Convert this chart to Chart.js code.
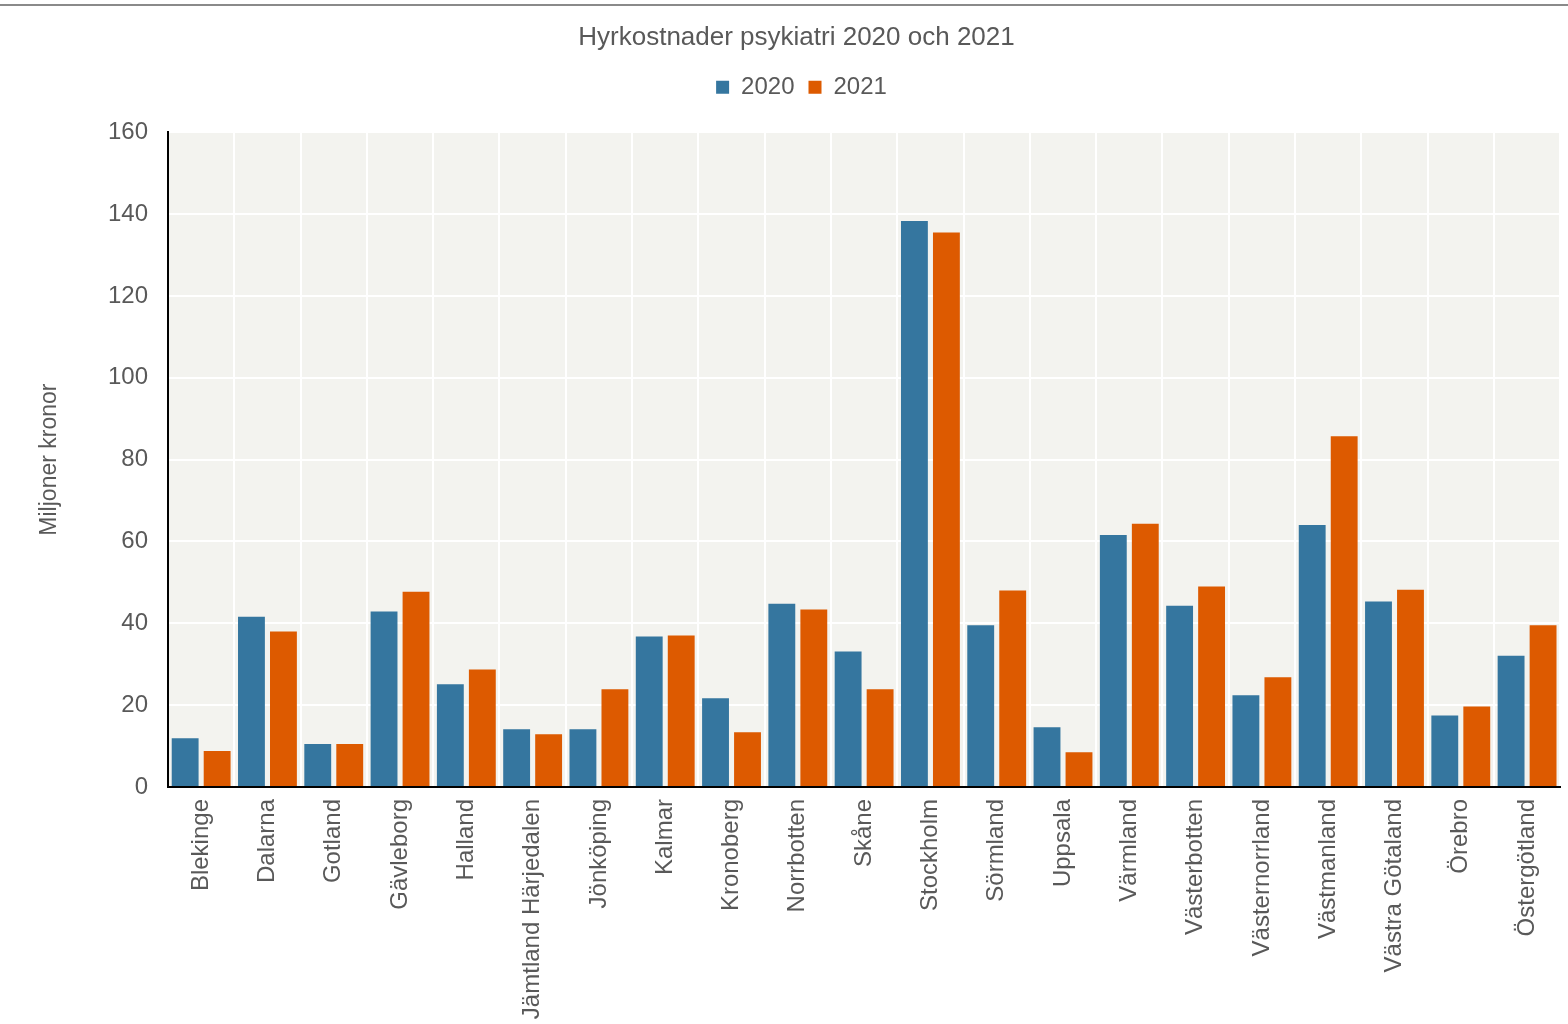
<!DOCTYPE html>
<html>
<head>
<meta charset="utf-8">
<script src="https://cdn.jsdelivr.net/npm/chart.js@4"></script>
<style>
  html, body { margin: 0; padding: 0; background: #fff; }
  #wrap { position: relative; width: 1568px; height: 1024px; }
  #topline { position: absolute; left: 0; top: 4px; width: 1568px; height: 0; border-top: 2px solid #8a8a8a; }
</style>
</head>
<body>
<div id="wrap">
  <canvas id="chart" width="1568" height="1024"></canvas>
  <div id="topline"></div>
</div>
<script>
// ===== DATA =====
const regions = ['Blekinge', 'Dalarna', 'Gotland', 'Gävleborg', 'Halland', 'Jämtland Härjedalen',
  'Jönköping', 'Kalmar', 'Kronoberg', 'Norrbotten', 'Skåne', 'Stockholm', 'Sörmland', 'Uppsala',
  'Värmland', 'Västerbotten', 'Västernorrland', 'Västmanland', 'Västra Götaland', 'Örebro', 'Östergötland'];
const values2020 = [11.9, 41.6, 10.5, 42.9, 25.1, 14.1, 14.1, 36.8, 21.7, 44.8, 33.1, 138.3, 39.5, 14.6,
  61.6, 44.3, 22.4, 64.0, 45.3, 17.5, 32.1];
const values2021 = [8.8, 38.0, 10.5, 47.7, 28.7, 12.9, 23.9, 37.0, 13.4, 43.4, 23.9, 135.5, 48.0, 8.5,
  64.3, 49.0, 26.8, 85.7, 48.2, 19.7, 39.5];
const yTicks = [0, 20, 40, 60, 80, 100, 120, 140, 160];

const textGrey = '#595959';
const font = 'Liberation Sans, Arial, sans-serif';

// plot area background
const plotBg = {
  id: 'plotBg',
  beforeDraw(chart) {
    const a = chart.chartArea;
    const ctx = chart.ctx;
    ctx.save();
    ctx.fillStyle = '#f3f3ef';
    ctx.fillRect(a.left, a.top, a.right - a.left, a.bottom - a.top);
    ctx.restore();
  }
};

// extra room under the legend, and nudge title + legend a bit right
const headerTweak = {
  id: 'headerTweak',
  beforeInit(chart) {
    const fit = chart.legend.fit;
    chart.legend.fit = function () {
      fit.call(this);
      this.height = 71;
    };
  },
  afterLayout(chart) {
    chart.titleBlock.left += 15;
    chart.titleBlock.right += 15;
    chart.legend.left += 20;
    chart.legend.right += 20;
  }
};

new Chart(document.getElementById('chart'), {
  type: 'bar',
  data: {
    labels: regions,
    datasets: [
      { label: '2020', data: values2020, backgroundColor: '#35769f', barPercentage: 0.84, categoryPercentage: 0.965 },
      { label: '2021', data: values2021, backgroundColor: '#dd5a00', barPercentage: 0.84, categoryPercentage: 0.965 }
    ]
  },
  options: {
    responsive: false,
    animation: false,
    layout: { padding: { left: 0, right: 5, top: 0, bottom: 0 } },
    plugins: {
      title: {
        display: true,
        text: 'Hyrkostnader psykiatri 2020 och 2021',
        color: textGrey,
        font: { family: font, size: 26, weight: 'normal' },
        padding: { top: 22, bottom: 8 }
      },
      legend: {
        display: true,
        labels: {
          color: textGrey,
          font: { family: font, size: 24 },
          boxWidth: 13,
          boxHeight: 13,
          padding: 14
        }
      },
      tooltip: { enabled: false }
    },
    scales: {
      x: {
        grid: { color: '#ffffff', lineWidth: 2, drawTicks: false, offset: true },
        border: { color: '#000000', width: 2 },
        ticks: {
          color: textGrey,
          font: { family: font, size: 24 },
          maxRotation: 90,
          minRotation: 90,
          padding: 12,
          autoSkip: false
        },
        afterFit: s => { s.height = 237; }
      },
      y: {
        min: 0,
        max: 160,
        afterBuildTicks: s => { s.ticks = yTicks.map(v => ({ value: v })); },
        grid: { color: '#ffffff', lineWidth: 2, drawTicks: false },
        border: { color: '#000000', width: 2 },
        ticks: {
          color: textGrey,
          font: { family: font, size: 24 },
          padding: 20
        },
        title: {
          display: true,
          text: 'Miljoner kronor',
          color: textGrey,
          font: { family: font, size: 23 },
          padding: { top: 36, bottom: 10 }
        },
        afterFit: s => { s.width = 168; }
      }
    }
  },
  plugins: [plotBg, headerTweak]
});
</script>
</body>
</html>
